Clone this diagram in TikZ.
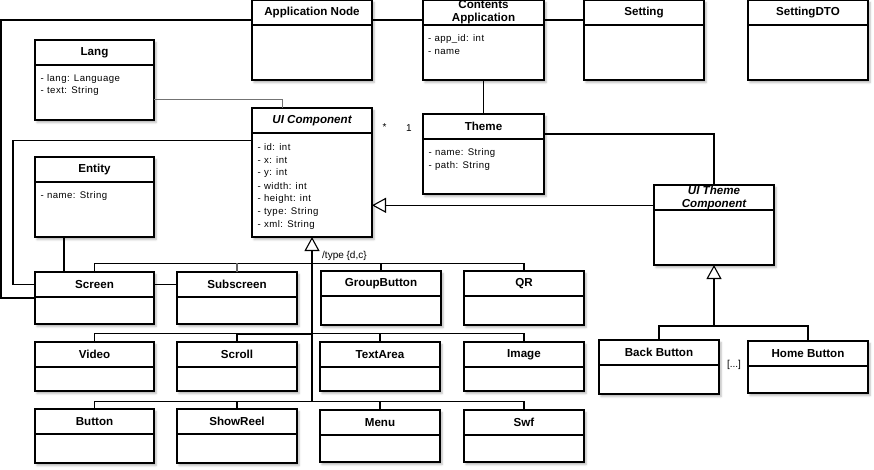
\documentclass[tikz,border=0pt]{standalone}
\usepackage{fontspec}
\setmainfont{Liberation Sans}
\newfontfamily\attrfont{Liberation Sans}[LetterSpace=5]
\usetikzlibrary{arrows.meta,shadows.blur}
\tikzset{
  umlbox/.style={draw, line width=1.1pt, fill=white, inner sep=0pt, outer sep=0pt,
    blur shadow={shadow xshift=2pt, shadow yshift=-2.5pt, shadow blur radius=2pt, shadow opacity=30}},
  umlline/.style={line width=1.1pt},
  umltitle/.style={inner sep=0pt, align=center, font=\bfseries\fontsize{11.6}{13}\selectfont},
  attr/.style={inner sep=0pt, anchor=west, font=\attrfont\fontsize{9.6}{11}\selectfont},
  lbl/.style={inner sep=0pt, font=\fontsize{10}{12}\selectfont},
  conn/.style={line width=1.1pt},
  gen/.style={line width=1.1pt, -{Triangle[open, length=14pt, width=15pt, fill=white]}},
}
\newcommand\umlclass[7]{%
  \node[umlbox, anchor=north west, minimum width={(#4-#2)*1pt}, minimum height={(#5-#3)*1pt}] (#1) at (#2,#3) {};
  \draw[umlline] (#2,#6) -- (#4,#6);
  \node[umltitle] (#1-t) at ({(#2+#4)/2},{(#3+#6)/2}) {#7};
}
\begin{document}
\begin{tikzpicture}[x=1pt,y=-1pt]
\useasboundingbox (0,0) rectangle (874,469);
% classes
\umlclass{AppNode}{252}{0}{372}{80}{25}{Application Node}
\umlclass{ContApp}{423}{0}{544}{80}{25}{Contents\\Application}
\umlclass{Setting}{584}{0}{704}{80}{25}{Setting}
\umlclass{SettingDTO}{748}{0}{868}{80}{25}{SettingDTO}
\umlclass{Lang}{35}{40}{154}{120}{65}{Lang}
\umlclass{UIComp}{252}{108}{372}{237}{133}{\itshape UI Component}
\umlclass{Entity}{35}{157}{154}{237}{182}{Entity}
\umlclass{Theme}{423}{114}{544}{194}{139}{Theme}
\umlclass{UITheme}{654}{185}{774}{265}{210}{\itshape UI Theme\\\itshape Component}
\umlclass{Screen}{35}{272}{154}{324}{297}{Screen}
\umlclass{Subscreen}{177}{272}{297}{324}{297}{Subscreen}
\umlclass{GroupButton}{321}{271}{441}{325}{296}{GroupButton}
\umlclass{QR}{464}{271}{584}{325}{296}{QR}
\umlclass{Video}{35}{342}{154}{391}{367}{Video}
\umlclass{Scroll}{177}{342}{297}{391}{367}{Scroll}
\umlclass{TextArea}{320}{342}{440}{391}{367}{TextArea}
\umlclass{Image}{464}{342}{584}{391}{367}{Image}
\umlclass{Button}{35}{409}{154}{463}{434}{Button}
\umlclass{ShowReel}{177}{409}{297}{463}{434}{ShowReel}
\umlclass{Menu}{320}{410}{440}{462}{435}{Menu}
\umlclass{Swf}{464}{410}{584}{462}{435}{Swf}
\umlclass{BackButton}{599}{340}{719}{394}{365}{Back Button}
\umlclass{HomeButton}{748}{341}{868}{393}{366}{Home Button}
% attributes
\node[attr] (ca1) at (428,39) {- app\_id: int};
\node[attr] (ca2) at (428,52.3) {- name};
\node[attr] (la1) at (40.5,79) {- lang: Language};
\node[attr] (la2) at (40.5,91) {- text: String};
\node[attr] (ua1) at (257.5,146.7) {- id: int};
\node[attr] (ua2) at (257.5,159.8) {- x: int};
\node[attr] (ua3) at (257.5,172.8) {- y: int};
\node[attr] (ua4) at (257.5,185.8) {- width: int};
\node[attr] (ua5) at (257.5,198.8) {- height: int};
\node[attr] (ua6) at (257.5,211.8) {- type: String};
\node[attr] (ua7) at (257.5,224.8) {- xml: String};
\node[attr] (ea1) at (40.5,196) {- name: String};
\node[attr] (ta1) at (428.5,152.7) {- name: String};
\node[attr] (ta2) at (428.5,166) {- path: String};
% labels
\node[lbl] (mstar) at (384.5,127.5) {*};
\node[lbl] (mone) at (409,128) {1};
\node[lbl, anchor=west] (typelbl) at (322,255.5) {/type \{d,c\}};
\node[lbl] (dots) at (734,364.5) {[...]};
% coordinates
\coordinate (oL) at (1,150);
\coordinate (iL) at (13,200);
\coordinate (bus1) at (312,263.3);
\coordinate (bus2) at (312,333.7);
\coordinate (bus3) at (312,401.7);
\coordinate (tb) at (714,326);
\coordinate (tw) at ([yshift=19.7pt]UITheme.west);
% connectors
\draw[conn] ([yshift=20pt]AppNode.west) -| (oL) |- (Screen.west);
\draw[conn] ([yshift=20pt]AppNode.east) -- ([yshift=20pt]ContApp.west);
\draw[conn] ([yshift=20pt]ContApp.east) -- ([yshift=20pt]Setting.west);
\draw[conn] (ContApp.south) -- (Theme.north);
\draw[conn, draw=black!55, line width=1.6pt] ([yshift=-19.3pt]Lang.east) -| ([xshift=-29.5pt]UIComp.north);
\draw[conn] ([yshift=31.8pt]UIComp.west) -| (iL) |- ([yshift=13.5pt]Screen.west);
\draw[conn] ([xshift=-30.5pt]Entity.south) -- ([xshift=-30.5pt]Screen.north);
\draw[conn] ([yshift=13.5pt]Screen.east) -- ([yshift=13.5pt]Subscreen.west);
\draw[conn] ([yshift=20pt]Theme.east) -| (UITheme.north);
\draw[gen] (tw) -- (tw -| UIComp.east);
% UI component hierarchy
\draw[conn] (Screen.north) |- (bus1) -| (QR.north);
\draw[conn, draw=black!60] (Subscreen.north) -- (Subscreen.north |- bus1);
\draw[conn] (GroupButton.north) -- (GroupButton.north |- bus1);
\draw[conn] (Video.north) |- (bus2) -| (Image.north);
\draw[conn, line width=2pt] (Scroll.north |- bus2) -- (bus2);
\draw[conn] (Scroll.north) -- (Scroll.north |- bus2);
\draw[conn] (TextArea.north) -- (TextArea.north |- bus2);
\draw[conn] (Button.north) |- (bus3) -| (Swf.north);
\draw[conn] (ShowReel.north) -- (ShowReel.north |- bus3);
\draw[conn] (Menu.north) -- (Menu.north |- bus3);
\draw[gen] (bus3) -- (UIComp.south);
% theme hierarchy
\draw[conn] (BackButton.north) |- (tb) -| (HomeButton.north);
\draw[gen] (tb) -- (UITheme.south);
\end{tikzpicture}
\end{document}
